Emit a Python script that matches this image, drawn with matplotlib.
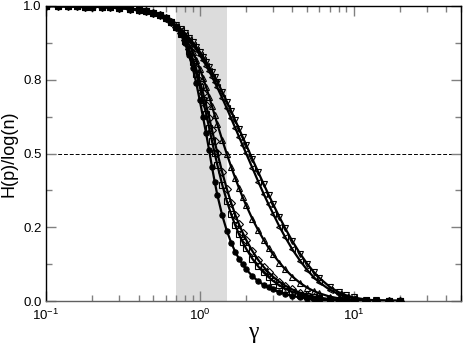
import numpy as np
import matplotlib
matplotlib.use("Agg")
from matplotlib import pyplot as plt
from matplotlib.ticker import FormatStrFormatter, MultipleLocator, LogLocator

plt.rcParams['font.family'] = ['Liberation Sans', 'DejaVu Sans']
plt.rcParams['mathtext.default'] = 'regular'

# gamma values
gamma = [0.1, 0.12, 0.14, 0.16, 0.18, 0.2, 0.23, 0.26, 0.3, 0.35, 0.4, 0.45,
         0.5, 0.55, 0.6, 0.65, 0.7, 0.75, 0.8, 0.85, 0.9, 0.95, 1.0, 1.05,
         1.1, 1.15, 1.2, 1.25, 1.3, 1.4, 1.5, 1.6, 1.7, 1.8, 1.9, 2.0, 2.2,
         2.4, 2.6, 2.8, 3.0, 3.3, 3.6, 4.0, 4.5, 5, 5.5, 6, 7, 8, 9, 10,
         12, 14, 17, 20]

# common head of all curves (gamma 0.1 .. 0.65)
head = [1.000, 1.000, 0.999, 0.999, 0.998, 0.998, 0.997, 0.996, 0.994, 0.991,
        0.987, 0.982, 0.976, 0.969, 0.958, 0.945]

h1 = head + [0.928, 0.905, 0.875, 0.835, 0.790, 0.738, 0.680, 0.623, 0.568,
             0.512, 0.455, 0.405, 0.360, 0.290, 0.238, 0.198, 0.167, 0.143,
             0.124, 0.108, 0.084, 0.067, 0.055, 0.046, 0.039, 0.030, 0.023,
             0.017, 0.012, 0.008, 0.006, 0.0045, 0.0026, 0.0016, 0.001,
             0.0007, 0.0003, 0.0002, 0.0001, 0.0]
h2 = head + [0.928, 0.906, 0.880, 0.848, 0.811, 0.770, 0.726, 0.680, 0.634,
             0.588, 0.543, 0.501, 0.462, 0.394, 0.339, 0.294, 0.257, 0.226,
             0.200, 0.178, 0.143, 0.117, 0.097, 0.081, 0.068, 0.053, 0.042,
             0.031, 0.022, 0.016, 0.012, 0.0085, 0.005, 0.003, 0.002,
             0.0012, 0.0005, 0.0002, 0.0001, 0.0]
h3 = head + [0.928, 0.908, 0.884, 0.855, 0.822, 0.786, 0.747, 0.706, 0.664,
             0.622, 0.581, 0.541, 0.503, 0.436, 0.380, 0.333, 0.293, 0.260,
             0.232, 0.208, 0.169, 0.139, 0.116, 0.097, 0.082, 0.065, 0.052,
             0.039, 0.028, 0.020, 0.015, 0.011, 0.0065, 0.004, 0.0025,
             0.0016, 0.0007, 0.0003, 0.0001, 0.0]
h4 = head + [0.930, 0.913, 0.893, 0.870, 0.845, 0.817, 0.788, 0.757, 0.725,
             0.693, 0.661, 0.630, 0.600, 0.546, 0.498, 0.455, 0.417, 0.383,
             0.352, 0.325, 0.278, 0.240, 0.208, 0.181, 0.158, 0.130, 0.107,
             0.083, 0.061, 0.045, 0.034, 0.026, 0.015, 0.009, 0.0055,
             0.0035, 0.0015, 0.0007, 0.0003, 0.0001]
h5 = head + [0.930, 0.917, 0.902, 0.886, 0.869, 0.852, 0.834, 0.816, 0.798,
             0.780, 0.761, 0.742, 0.724, 0.688, 0.653, 0.619, 0.587, 0.557,
             0.528, 0.501, 0.451, 0.405, 0.364, 0.328, 0.296, 0.252, 0.216,
             0.175, 0.136, 0.105, 0.081, 0.063, 0.038, 0.023, 0.014,
             0.009, 0.0035, 0.0015, 0.0005, 0.0002]
h6 = head + [0.935, 0.922, 0.908, 0.893, 0.877, 0.861, 0.845, 0.828, 0.811,
             0.794, 0.777, 0.760, 0.743, 0.709, 0.676, 0.644, 0.613, 0.584,
             0.556, 0.530, 0.481, 0.437, 0.397, 0.361, 0.328, 0.284, 0.246,
             0.203, 0.160, 0.126, 0.099, 0.078, 0.048, 0.030, 0.019,
             0.012, 0.005, 0.002, 0.0008, 0.0003]

series = [h1, h2, h3, h4, h5, h6]
markers = ['o', 's', 'D', '^', '<', 'v']

fig = plt.figure(figsize=(4.63, 3.44), dpi=100)
ax = fig.add_axes([46/463, 43/344, 415/463, 295/344])

ax.axvspan(0.7, 1.5, color='#dcdcdc', lw=0, zorder=0)
ax.axhline(0.5, color='black', lw=0.7, ls=(0, (4, 2)), zorder=1)

for i, h in enumerate(series):
    face = 'black' if i == 0 else 'none'
    ax.plot(gamma, h, color='black', lw=1.6, marker=markers[i], ms=3.8,
            mfc=face, mec='black', mew=0.8, zorder=3 + (5 - i))

ax.set_xscale('log')
ax.set_xlim(0.1, 50)
ax.set_ylim(0, 1)
ax.yaxis.set_major_locator(MultipleLocator(0.25))
ax.yaxis.set_minor_locator(MultipleLocator(0.125))
ax.yaxis.set_major_formatter(FormatStrFormatter('%.1f'))
ax.xaxis.set_minor_locator(LogLocator(base=10, subs=np.arange(2, 10)))

ax.tick_params(which='both', direction='in', top=True, right=True,
               color='#808080', labelsize=9.5)
ax.tick_params(which='major', length=7, width=1)
ax.tick_params(which='minor', length=4, width=1)
ax.tick_params(axis='x', pad=5)
ax.tick_params(axis='y', pad=3)
for s in ax.spines.values():
    s.set_linewidth(1.0)
ax.spines['bottom'].set_color('#606060')

ax.set_xlabel('γ', fontsize=17, family='Liberation Serif', labelpad=-1)
ax.set_ylabel('H(p)/log(n)', fontsize=13, labelpad=4)

fig.savefig('out.png', dpi=100)
